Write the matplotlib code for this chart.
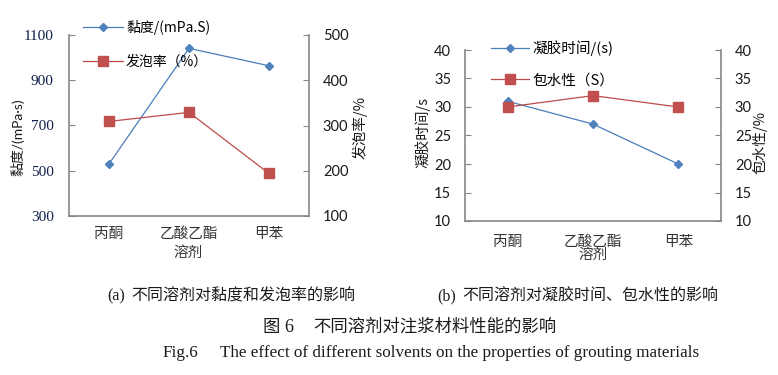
import matplotlib
matplotlib.use("Agg")
import matplotlib.pyplot as plt

plt.rcParams['font.family'] = ['Noto Sans CJK SC', 'DejaVu Sans']

solvents = ['丙酮', '乙酸乙酯', '甲苯']
viscosity = [530, 1041, 964]
foam_rate = [309, 329, 194]
gel_time = [31, 27, 20]
water_wrap = [30, 32, 30]

visc_ticks = [300, 500, 700, 900, 1100]
foam_ticks = [100, 200, 300, 400, 500]
b_ticks = [10, 15, 20, 25, 30, 35, 40]

BLUE = '#4A7EBB'
BLUE_M = '#4F81BD'
RED = '#BE4B48'
RED_M = '#C0504D'
SPINE = '#868686'
TXT = '#1a1a1a'

fig = plt.figure(figsize=(7.78, 3.75), dpi=100)
W, H = 778, 375

def axrect(l, t, r, b):
    return [l / W, 1 - b / H, (r - l) / W, (b - t) / H]

x = [0.5, 1.5, 2.5]

def style(ax, ax2):
    for a in (ax, ax2):
        for s in a.spines.values():
            s.set_color(SPINE)
            s.set_linewidth(1.2)
        a.spines['top'].set_visible(False)
        a.set_xlim(0, 3)
        a.set_facecolor('none')
    ax.spines['right'].set_visible(False)
    ax2.spines['left'].set_visible(False)
    ax2.spines['bottom'].set_visible(False)

# ---------- chart (a) ----------
ax = fig.add_axes(axrect(69, 35, 309, 216))
ax2 = ax.twinx()
style(ax, ax2)
l1, = ax.plot(x, viscosity, color=BLUE, lw=0.9, marker='D', ms=4.5,
              mfc=BLUE_M, mec=BLUE_M, label='黏度/(mPa.S)')
l2, = ax2.plot(x, foam_rate, color=RED, lw=0.9, marker='s', ms=6.5,
               mfc=RED_M, mec=RED_M, label='发泡率（%）')
ax.set_ylim(300, 1100)
ax.set_yticks(visc_ticks)
ax.set_yticklabels([str(v) for v in visc_ticks], family='Liberation Serif',
                   fontsize=11, color='#10204a')
ax2.set_ylim(100, 500)
ax2.set_yticks(foam_ticks)
ax2.set_yticklabels([str(v) for v in foam_ticks], family='Lato', fontsize=10.5, color=TXT)
ax.tick_params(axis='y', direction='in', length=4, pad=11, color=SPINE)
ax2.tick_params(axis='y', direction='in', length=4, pad=10, color=SPINE)
ax.set_xticks(x)
ax.set_xticklabels(solvents, fontsize=10.5, color='#333333')
ax.tick_params(axis='x', length=0, pad=8)
fig.text(188 / W, 1 - 253 / H, '溶剂', ha='center', va='center', fontsize=10.5, color='#333333')
fig.text(17 / W, 1 - 137 / H, '黏度/(mPa·s)', rotation=90, ha='center', va='center',
         fontsize=10, color=TXT, family=['Lato', 'Noto Sans CJK SC'])
fig.text(360 / W, 1 - 127 / H, '发泡率/%', rotation=90, ha='center', va='center',
         fontsize=10.5, color=TXT)
fig.legend(handles=[l1, l2], loc='upper left', bbox_to_anchor=(76 / W, 1 - 13 / H),
           frameon=False, fontsize=10, handlelength=2.9, labelspacing=1.45,
           handletextpad=0.2, borderpad=0)

# ---------- chart (b) ----------
bx = fig.add_axes(axrect(465, 50, 721, 221))
bx2 = bx.twinx()
style(bx, bx2)
m1, = bx.plot(x, gel_time, color=BLUE, lw=0.9, marker='D', ms=4.5,
              mfc=BLUE_M, mec=BLUE_M, label='凝胶时间/(s)')
m2, = bx2.plot(x, water_wrap, color=RED, lw=0.9, marker='s', ms=6.5,
               mfc=RED_M, mec=RED_M, label='包水性（S）')
for a in (bx, bx2):
    a.set_ylim(10, 40)
    a.set_yticks(b_ticks)
    a.set_yticklabels([str(v) for v in b_ticks], family='Lato', fontsize=10.5, color=TXT)
    a.tick_params(axis='y', direction='in', length=4, pad=10, color=SPINE)
bx.set_xticks(x)
bx.set_xticklabels(solvents, fontsize=10.5, color='#333333')
bx.tick_params(axis='x', length=0, pad=10)
fig.text(593 / W, 1 - 255 / H, '溶剂', ha='center', va='center', fontsize=10.5, color='#333333')
fig.text(423 / W, 1 - 133 / H, '凝胶时间/s', rotation=90, ha='center', va='center',
         fontsize=10.5, color=TXT)
fig.text(760 / W, 1 - 142 / H, '包水性/%', rotation=90, ha='center', va='center',
         fontsize=10.5, color=TXT)
fig.legend(handles=[m1, m2], loc='upper left', bbox_to_anchor=(484 / W, 1 - 33 / H),
           frameon=False, fontsize=10.5, handlelength=2.6, labelspacing=1.2,
           handletextpad=0.2, borderpad=0)

# ---------- captions ----------
fig.text(107 / W, 1 - 296 / H, '(a)', family='Liberation Serif', fontsize=11.5,
         ha='left', va='center', color=TXT)
fig.text(131 / W, 1 - 296 / H, '不同溶剂对黏度和发泡率的影响', fontsize=11.5,
         ha='left', va='center', color=TXT)
fig.text(437 / W, 1 - 296 / H, '(b)', family='Liberation Serif', fontsize=11.5,
         ha='left', va='center', color=TXT)
fig.text(462 / W, 1 - 296 / H, '不同溶剂对凝胶时间、包水性的影响', fontsize=11.5,
         ha='left', va='center', color=TXT)
fig.text(263 / W, 1 - 327 / H, '图', fontsize=12.5,
         ha='left', va='center', color=TXT)
fig.text(284 / W, 1 - 327 / H, '6', family='Liberation Serif', fontsize=13,
         ha='left', va='center', color=TXT)
fig.text(313 / W, 1 - 327 / H, '不同溶剂对注浆材料性能的影响', fontsize=12.5,
         ha='left', va='center', color=TXT)
fig.text(163 / W, 1 - 353 / H, 'Fig.6', family='Liberation Serif', fontsize=12.3,
         ha='left', va='center', color=TXT)
fig.text(220 / W, 1 - 353 / H,
         'The effect of different solvents on the properties of grouting materials',
         family='Liberation Serif', fontsize=12.3, ha='left', va='center', color=TXT)

fig.savefig('out.png', dpi=100)
